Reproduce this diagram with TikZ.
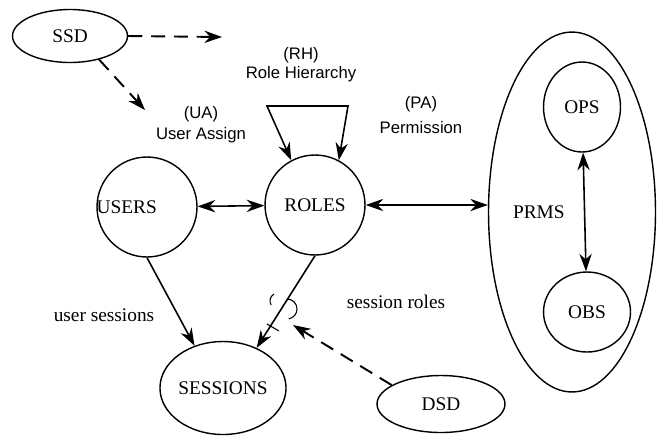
\documentclass[tikz,border=0pt]{standalone}
\usepackage{fontspec}
\setmainfont{Liberation Serif}
\newfontfamily\labelfont{Liberation Sans}
\usetikzlibrary{arrows.meta,shapes.geometric}

\begin{document}
\begin{tikzpicture}[x=0.02cm,y=-0.02cm,
	ent/.style={draw,ellipse,inner sep=0pt,line width=0.8pt,font=\fontsize{11}{13}\selectfont},
	rel/.style={line width=0.9pt,-{Stealth[length=10pt,width=7pt]}},
	both/.style={rel,{Stealth[length=10pt,width=7pt]}-{Stealth[length=10pt,width=7pt]}},
	sod/.style={rel,line width=1.1pt,dash pattern=on 8pt off 5pt},
	lbl/.style={align=center,font=\labelfont\fontsize{9.5}{11}\selectfont},
	txt/.style={font=\fontsize{11}{13}\selectfont}]
	\useasboundingbox (0,0) rectangle (658,437);
	
	\node[ent,minimum width=2.3cm,minimum height=1.06cm] (ssd) at (70,36) {SSD};
	\node[ent,circle,minimum size=2cm,label={[anchor=west,inner sep=0pt,font=\fontsize{11}{13}\selectfont]west:USERS}] (users) at (147,207) {};
	\node[ent,circle,minimum size=2cm] (roles) at (315,205) {ROLES};
	\node[ent,minimum width=2.26cm,minimum height=1.86cm] (sessions) at (223,388) {SESSIONS};
	\node[ent,minimum width=2.56cm,minimum height=1.14cm] (dsd) at (441,404) {DSD};
	\node[ent,minimum width=3.34cm,minimum height=7.2cm,label={[anchor=west,xshift=0.38cm,font=\fontsize{11}{13}\selectfont]west:PRMS}] (prms) at (572,212) {};
	\node[ent,minimum width=1.54cm,minimum height=1.8cm] (ops) at (582,107) {OPS};
	\node[ent,minimum width=1.74cm,minimum height=1.6cm] (obs) at (587,312) {OBS};
	
	\node[lbl] (rh) at (301,65) {(RH)\\Role Hierarchy};
	\node[lbl] (ua) at (201,125) {(UA)\\[1pt]User Assign};
	\node[lbl] (pa) at (421,115) {(PA)\\[3pt]Permission};
	\node[txt] (us) at (104,315) {user sessions};
	\node[txt] (sr) at (396,302) {session roles};
	
	\coordinate (ssdr) at (222,37);
	\coordinate (ssdd) at (145,110);
	\draw[sod] (ssd.east) -- (ssdr);
	\draw[sod] (ssd.-39) -- (ssdd);
	
	\coordinate (rhl) at (267,106);
	\coordinate (rhr) at (348,106);
	\draw[both] (roles.118) -- (rhl) -- (rhr) -- (roles.62);
	\draw[both] (users) -- (roles);
	\draw[both] (roles.east) -- (roles.east -| prms.west);
	\draw[both] (ops) -- (obs);
	\draw[rel] (users.south) -- (sessions.124);
	\draw[rel] (roles.south) -- (sessions.50);
	
	\coordinate (dsdend) at (293,325);
	\draw[sod] (dsd.159) -- (dsdend);
	\draw[line width=0.6pt] (274,294) arc[start angle=120,end angle=210,radius=0.16cm];
	\draw[line width=0.6pt] (287,299) arc[start angle=90,end angle=-80,radius=0.2cm];
	\draw[line width=0.6pt] (267,324) -- (279,331);
\end{tikzpicture}
\end{document}
